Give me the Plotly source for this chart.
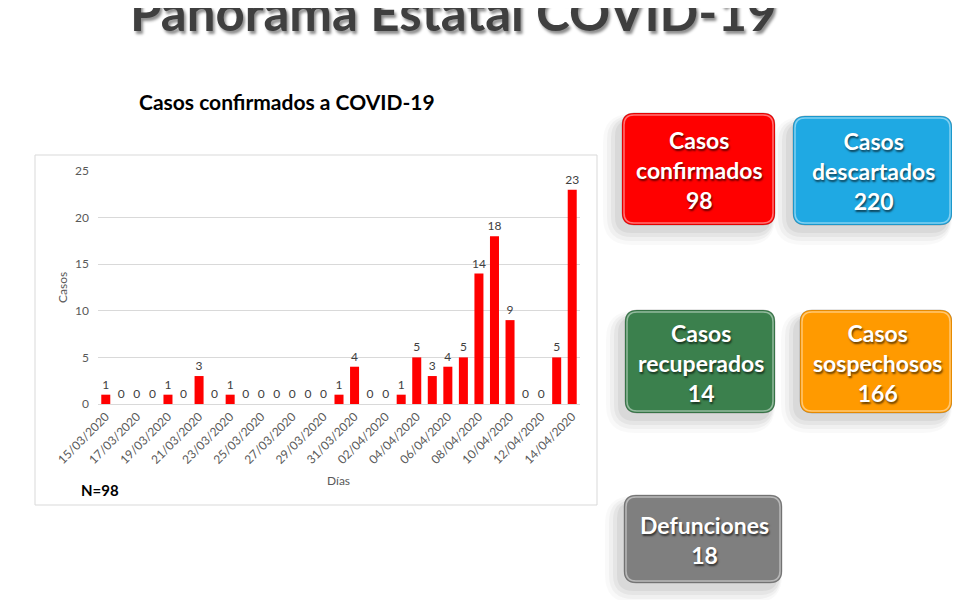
import plotly.graph_objects as go

W, H = 960, 600
OFF = 8  # la pagina deja un margen de 8px alrededor de la figura

fechas = ["15/03/2020", "16/03/2020", "17/03/2020", "18/03/2020", "19/03/2020",
          "20/03/2020", "21/03/2020", "22/03/2020", "23/03/2020", "24/03/2020",
          "25/03/2020", "26/03/2020", "27/03/2020", "28/03/2020", "29/03/2020",
          "30/03/2020", "31/03/2020", "01/04/2020", "02/04/2020", "03/04/2020",
          "04/04/2020", "05/04/2020", "06/04/2020", "07/04/2020", "08/04/2020",
          "09/04/2020", "10/04/2020", "11/04/2020", "12/04/2020", "13/04/2020",
          "14/04/2020"]
casos = [1, 0, 0, 0, 1, 0, 3, 0, 1, 0, 0, 0, 0, 0, 0,
         1, 4, 0, 0, 1, 5, 3, 4, 5, 14, 18, 9, 0, 0, 5, 23]
tick_fechas = fechas[::2]
y_ticks = [0, 5, 10, 15, 20, 25]

tarjetas = ["Casos<br>confirmados", "Casos<br>descartados", "Casos<br>recuperados",
            "Casos<br>sospechosos", "Defunciones"]
tarjeta_valores = [98, 220, 14, 166, 18]
tarjeta_colores = ["#FF0000", "#1FA9E3", "#3B804D", "#FF9A00", "#7F7F7F"]
total = "N=98"

# posiciones de las tarjetas en pixeles (x0, y0, x1, y1)
cajas = [(622, 113, 775, 225), (793, 116, 952, 225), (625, 310, 775, 413),
         (800, 310, 952, 413), (624, 495, 782, 583)]


def px(x):
    return (x - OFF) / W


def py(y):
    return 1 - (y - OFF) / H


def rounded(x0, y0, x1, y1, r=12):
    pts = [
        f"M {px(x0 + r)} {py(y0)}",
        f"L {px(x1 - r)} {py(y0)}",
        f"Q {px(x1)} {py(y0)} {px(x1)} {py(y0 + r)}",
        f"L {px(x1)} {py(y1 - r)}",
        f"Q {px(x1)} {py(y1)} {px(x1 - r)} {py(y1)}",
        f"L {px(x0 + r)} {py(y1)}",
        f"Q {px(x0)} {py(y1)} {px(x0)} {py(y1 - r)}",
        f"L {px(x0)} {py(y0 + r)}",
        f"Q {px(x0)} {py(y0)} {px(x0 + r)} {py(y0)}",
        "Z",
    ]
    return " ".join(pts)


fig = go.Figure()

fig.add_trace(go.Bar(
    x=fechas, y=casos,
    marker=dict(color="#FF0000", line=dict(width=0)),
    text=casos, textposition="outside", constraintext="none",
    textfont=dict(family="Lato", size=12, color="#404040"),
    cliponaxis=False,
))

shapes = []
# marco del grafico
shapes.append(dict(type="rect", xref="paper", yref="paper",
                   x0=px(35), x1=px(597), y0=py(505), y1=py(155),
                   line=dict(color="#D9D9D9", width=1), fillcolor="white", layer="below"))

for (x0, y0, x1, y1), col in zip(cajas, tarjeta_colores):
    # sombra difusa hacia abajo a la izquierda
    for k, a in [(14, 0.025), (10, 0.035), (6, 0.045), (2, 0.05)]:
        shapes.append(dict(type="path", xref="paper", yref="paper",
                           path=rounded(x0 - 5 - k, y0 + 8 - k // 2, x1 - 4 + k // 3, y1 + 6 + k, 14 + k),
                           fillcolor=f"rgba(0,0,0,{a})", line=dict(width=0)))
    shapes.append(dict(type="path", xref="paper", yref="paper",
                       path=rounded(x0, y0, x1, y1),
                       fillcolor=col, line=dict(color="rgba(0,0,0,0.2)", width=1)))
    shapes.append(dict(type="path", xref="paper", yref="paper",
                       path=rounded(x0 + 2, y0 + 2, x1 - 2, y1 - 2, 10),
                       fillcolor="rgba(0,0,0,0)", line=dict(color="rgba(255,255,255,0.45)", width=1.5)))

annotations = [
    dict(text="Panorama Estatal COVID-19", x=px(453), y=py(11), xref="paper", yref="paper",
         showarrow=False, xanchor="center", yanchor="middle",
         font=dict(family="Lato", size=51, color="#3F3F3F", weight=700,
                   shadow="2px 3px 3px rgba(0,0,0,0.45)")),
    dict(text="<b>Casos confirmados a COVID-19</b>", x=px(287), y=py(101), xref="paper", yref="paper",
         showarrow=False, xanchor="center", yanchor="middle",
         font=dict(family="Lato", size=21, color="#000000")),
    dict(text=f"<b>{total}</b>", x=px(79), y=py(490), xref="paper", yref="paper",
         showarrow=False, xanchor="left", yanchor="middle",
         font=dict(family="Lato", size=15, color="#000000")),
    dict(text="Días", x=px(338), y=py(480), xref="paper", yref="paper",
         showarrow=False, xanchor="center", yanchor="middle",
         font=dict(family="Lato", size=12, color="#595959")),
    dict(text="Casos", x=px(62), y=py(288), xref="paper", yref="paper", textangle=-90,
         showarrow=False, xanchor="center", yanchor="middle",
         font=dict(family="Lato", size=12, color="#595959")),
]

for (x0, y0, x1, y1), lab, val in zip(cajas, tarjetas, tarjeta_valores):
    annotations.append(dict(
        text=f"<b>{lab}<br>{val}</b>", x=px((x0 + x1) / 2 + 1), y=py((y0 + y1) / 2 + 1),
        xref="paper", yref="paper", showarrow=False, xanchor="center", yanchor="middle",
        font=dict(family="Lato", size=23, color="white", shadow="1px 2px 2px rgba(0,0,0,0.6)"),
    ))

fig.update_layout(
    width=W, height=H,
    margin=dict(l=0, r=0, t=0, b=0),
    paper_bgcolor="white", plot_bgcolor="rgba(0,0,0,0)",
    showlegend=False, bargap=0.42,
    shapes=shapes, annotations=annotations,
    xaxis=dict(domain=[px(98), px(580)], type="category", tickmode="array",
               tickvals=tick_fechas, ticktext=tick_fechas, tickangle=-45,
               tickfont=dict(family="Lato", size=12, color="#595959"),
               showgrid=False, showline=True, linecolor="#D9D9D9", ticks="",
               automargin=False),
    yaxis=dict(domain=[py(404), py(171)], range=[0, 25], tickvals=y_ticks,
               tickfont=dict(family="Lato", size=12, color="#595959"),
               showgrid=True, gridcolor="#D9D9D9", zeroline=False, showline=False,
               ticklabelstandoff=8, automargin=False),
)

fig.write_html("out.html")
